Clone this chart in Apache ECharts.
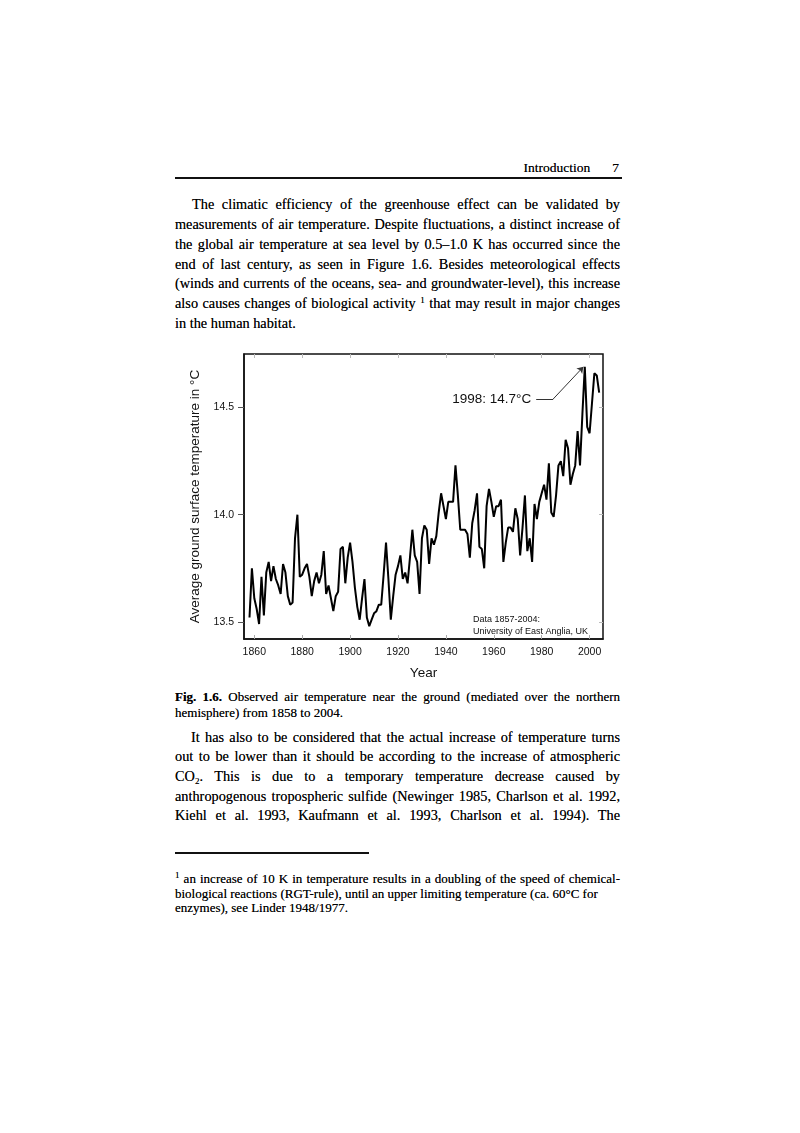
<!DOCTYPE html>
<html>
<head>
<meta charset="utf-8">
<script src="https://cdn.jsdelivr.net/npm/echarts@6/dist/echarts.min.js"></script>
<style>
body { margin: 0; background: #fff; }
#page { position: relative; width: 800px; height: 1133px; background: #fff; color: #000; font-family: "Liberation Serif", "DejaVu Serif", serif; text-shadow: 0 0 0.25px rgba(0,0,0,0.6); }
.ln { position: absolute; left: 175px; width: 445px; white-space: nowrap; }
.j { text-align: justify; text-align-last: justify; }
.body { font-size: 14.3px; height: 20px; line-height: 20px; }
.cap { font-size: 13px; height: 16px; line-height: 16px; }
.fn { font-size: 13px; height: 15px; line-height: 15px; }
sup { font-size: 9px; vertical-align: 5px; line-height: 0; }
sub { font-size: 9px; vertical-align: -3px; line-height: 0; }
#chart { position: absolute; left: 170px; top: 340px; width: 450px; height: 345px; }
</style>
</head>
<body>
<div id="page">
  <div style="position:absolute; right:181px; top:159px; font-size:13.5px; line-height:18px;">Introduction<span style="margin-left:22px;">7</span></div>
  <div style="position:absolute; left:175px; top:177px; width:447px; height:2px; background:#111;"></div>

  <div class="ln body j" style="top:194px; left:192px; width:428px;">The climatic efficiency of the greenhouse effect can be validated by</div>
  <div class="ln body j" style="top:214px;">measurements of air temperature. Despite fluctuations, a distinct increase of</div>
  <div class="ln body j" style="top:234px;">the global air temperature at sea level by 0.5–1.0 K has occurred since the</div>
  <div class="ln body j" style="top:254px;">end of last century, as seen in Figure 1.6. Besides meteorological effects</div>
  <div class="ln body j" style="top:273px;">(winds and currents of the oceans, sea- and groundwater-level), this increase</div>
  <div class="ln body j" style="top:293px;">also causes changes of biological activity <sup>1</sup> that may result in major changes</div>
  <div class="ln body" style="top:313px;">in the human habitat.</div>

  <div id="chart"></div>

  <div class="ln cap j" style="top:689px;"><b>Fig. 1.6.</b> Observed air temperature near the ground (mediated over the northern</div>
  <div class="ln cap" style="top:705px;">hemisphere) from 1858 to 2004.</div>

  <div class="ln body j" style="top:727px; left:191px; width:429px;">It has also to be considered that the actual increase of temperature turns</div>
  <div class="ln body j" style="top:746px;">out to be lower than it should be according to the increase of atmospheric</div>
  <div class="ln body j" style="top:766px;">CO<sub>2</sub>. This is due to a temporary temperature decrease caused by</div>
  <div class="ln body j" style="top:786px;">anthropogenous tropospheric sulfide (Newinger 1985, Charlson et al. 1992,</div>
  <div class="ln body j" style="top:805px;">Kiehl et al. 1993, Kaufmann et al. 1993, Charlson et al. 1994). The</div>

  <div style="position:absolute; left:175px; top:852px; width:194px; height:2px; background:#111;"></div>
  <div class="ln fn j" style="top:871px;"><sup>1</sup> an increase of 10 K in temperature results in a doubling of the speed of chemical-</div>
  <div class="ln fn" style="top:886px;">biological reactions (RGT-rule), until an upper limiting temperature (ca. 60°C for</div>
  <div class="ln fn" style="top:900px;">enzymes), see Linder 1948/1977.</div>
</div>
<script>
// annual mean, northern hemisphere, 1858-2004
var firstYear = 1858;
var temps = [
    13.52, 13.75,
    13.61, 13.56, 13.49, 13.71, 13.53, 13.73, 13.78, 13.69, 13.76, 13.70,
    13.67, 13.63, 13.77, 13.73, 13.62, 13.58, 13.59, 13.89, 14.00, 13.71,
    13.72, 13.75, 13.77, 13.71, 13.62, 13.69, 13.73, 13.68, 13.72, 13.83,
    13.63, 13.67, 13.61, 13.55, 13.62, 13.64, 13.84, 13.85, 13.68, 13.80,
    13.87, 13.78, 13.66, 13.57, 13.51, 13.61, 13.70, 13.52, 13.48, 13.51,
    13.54, 13.55, 13.58, 13.58, 13.72, 13.87, 13.70, 13.51, 13.62, 13.72,
    13.76, 13.81, 13.70, 13.73, 13.68, 13.80, 13.93, 13.81, 13.78, 13.63,
    13.89, 13.95, 13.93, 13.77, 13.89, 13.86, 13.90, 14.01, 14.10, 14.04,
    13.98, 14.06, 14.06, 14.06, 14.23, 14.09, 13.93, 13.93, 13.93, 13.91,
    13.80, 13.96, 14.02, 14.10, 13.85, 13.84, 13.75, 14.04, 14.12, 14.06,
    13.99, 14.04, 14.04, 14.07, 13.78, 13.87, 13.94, 13.94, 13.92, 14.03,
    13.98, 13.81, 13.94, 14.09, 13.83, 13.89, 13.78, 14.05, 13.98, 14.06,
    14.10, 14.14, 14.07, 14.24, 14.01, 13.99, 14.09, 14.23, 14.25, 14.18,
    14.35, 14.31, 14.14, 14.19, 14.23, 14.39, 14.23, 14.47, 14.69, 14.41,
    14.38, 14.52, 14.66, 14.65, 14.57
];
var xTicks = [1860, 1880, 1900, 1920, 1940, 1960, 1980, 2000];
var yTicks = [13.5, 14.0, 14.5];

var seriesData = [];
temps.forEach(function (v, i) {
    seriesData.push([firstYear + i, v]);
});

var xMin = 1855.7, xMax = 2005.6;
var yMin = 13.42, yMax = 14.75;
var sans = '"Liberation Sans", Arial, sans-serif';

var myChart = echarts.init(document.getElementById('chart'));
var option = {
    animation: false,
    grid: {
        left: 74,
        top: 14,
        right: 17,
        bottom: 41,
        show: true,
        borderColor: '#111',
        borderWidth: 1.5,
        backgroundColor: 'transparent'
    },
    xAxis: [{
        type: 'value',
        min: xMin,
        max: xMax,
        name: 'Year',
        nameLocation: 'middle',
        nameGap: 27,
        nameTextStyle: { color: '#111', fontSize: 13.5, fontFamily: sans },
        axisLine: { show: true, lineStyle: { color: '#111', width: 1.5 } },
        axisTick: { show: true, inside: true, length: 4, customValues: xTicks, lineStyle: { color: '#aaa' } },
        axisLabel: {
            customValues: xTicks,
            margin: 8,
            color: '#111',
            fontSize: 10.5,
            fontFamily: sans,
            formatter: function (v) { return String(v); }
        },
        splitLine: { show: false }
    }, {
        type: 'value',
        position: 'top',
        min: xMin,
        max: xMax,
        axisLine: { show: false },
        axisTick: { show: true, inside: true, length: 4, customValues: xTicks, lineStyle: { color: '#bbb' } },
        axisLabel: { show: false },
        splitLine: { show: false }
    }],
    yAxis: [{
        type: 'value',
        min: yMin,
        max: yMax,
        name: 'Average ground surface temperature in °C',
        nameLocation: 'middle',
        nameGap: 39,
        nameTextStyle: { color: '#111', fontSize: 13.5, fontFamily: sans },
        axisLine: { show: true, lineStyle: { color: '#111', width: 1.5 } },
        axisTick: { show: true, length: 6, customValues: yTicks, lineStyle: { color: '#555' } },
        axisLabel: {
            customValues: yTicks,
            margin: 10,
            color: '#111',
            fontSize: 10.5,
            fontFamily: sans,
            formatter: function (v) { return v.toFixed(1); }
        },
        splitLine: { show: false }
    }, {
        type: 'value',
        position: 'right',
        min: yMin,
        max: yMax,
        axisLine: { show: false },
        axisTick: { show: true, inside: true, length: 4, customValues: yTicks, lineStyle: { color: '#bbb' } },
        axisLabel: { show: false },
        splitLine: { show: false }
    }],
    series: [{
        type: 'line',
        data: seriesData,
        symbol: 'none',
        lineStyle: { color: '#000', width: 2 },
        markLine: {
            silent: true,
            symbol: ['none', 'none'],
            lineStyle: { color: '#333', width: 1, type: 'solid' },
            label: { show: false },
            data: [
                [
                    { coord: [1977.7, 14.54], label: { show: true, position: 'start', distance: 5, formatter: '1998: 14.7°C', color: '#111', fontSize: 13.5, fontFamily: sans } },
                    { coord: [1984.8, 14.54] }
                ],
                [
                    { coord: [1984.8, 14.54] },
                    { coord: [1997.4, 14.69], symbol: 'arrow', symbolSize: 6 }
                ]
            ]
        }
    }],
    graphic: [{
        type: 'text',
        left: 303,
        top: 274,
        style: {
            text: 'Data 1857-2004:\nUniversity of East Anglia, UK',
            font: '9px ' + sans,
            lineHeight: 11.5,
            fill: '#111'
        }
    }]
};
myChart.setOption(option);
</script>
</body>
</html>
